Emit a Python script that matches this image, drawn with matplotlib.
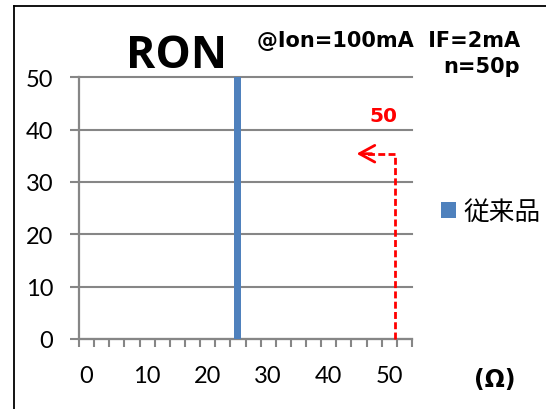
import matplotlib
matplotlib.use('Agg')
import matplotlib.pyplot as plt
from matplotlib.lines import Line2D
from matplotlib.font_manager import FontProperties
import numpy as np

# ---- data ----
categories = [0, 2.5, 5, 7.5, 10, 12.5, 15, 17.5, 20, 22.5, 25, 27.5,
              30, 32.5, 35, 37.5, 40, 42.5, 45, 47.5, 50, 52.5]
counts = [0, 0, 0, 0, 0, 0, 0, 0, 0, 0, 50, 0,
          0, 0, 0, 0, 0, 0, 0, 0, 0, 0]
series_name = '従来品'
xtick_labels = ['0', '10', '20', '30', '40', '50']
ytick_values = [0, 10, 20, 30, 40, 50]
title = 'RON'
cond_line1 = '@Ion=100mA  IF=2mA'
cond_line2 = 'n=50p'
unit_label = '(Ω)'
marker_value = '50'

plt.rcParams['font.family'] = ['Lato', 'DejaVu Sans']

W, H = 546, 410
fig = plt.figure(figsize=(W / 100, H / 100), dpi=100)
fig.patch.set_facecolor('white')

def fx(px):
    return px / W

def fy(py):
    return 1 - py / H

ax = fig.add_axes([fx(79), fy(340), fx(412) - fx(79), fy(78.3) - fy(340)])

idx = np.arange(len(categories))
bars = ax.bar(idx, counts, width=0.47, color='#4F81BD', zorder=3)

grey = '#868686'
ax.set_xlim(-0.5, len(categories) - 0.5)
ax.set_ylim(0, 50)
ax.set_yticks(ytick_values)
ax.set_yticklabels([str(v) for v in ytick_values])
ax.yaxis.grid(True, color=grey, lw=1.5, zorder=1)
for gl in ax.get_ygridlines():
    gl.set_clip_on(False)

# category boundary ticks (no labels) and labels every 4th category
ax.set_xticks(np.arange(len(categories) + 1) - 0.5)
ax.set_xticklabels([])
ax.set_xticks(idx[::4], minor=True)
ax.set_xticklabels(xtick_labels, minor=True)
ax.tick_params(axis='x', which='major', direction='out', length=5.5, width=1.5, color=grey)
ax.tick_params(axis='x', which='minor', length=0, pad=19, labelsize=17)
ax.tick_params(axis='y', which='major', direction='out', length=6.5, width=1.5, color=grey,
               pad=12, labelsize=17)

for s in ['top', 'right']:
    ax.spines[s].set_visible(False)
for s in ['left', 'bottom']:
    ax.spines[s].set_color(grey)
    ax.spines[s].set_linewidth(1.6)

# dashed red arrow annotation
vx = 20.4
vy = 35.4
tipx = 17.84
ax.plot([vx, vx, tipx + 0.4], [0, vy, vy], color='red', lw=2,
        dashes=(2.5, 1.2), clip_on=False, zorder=4)
ax.annotate('', xy=(tipx, vy), xytext=(tipx + 1.0, vy),
            arrowprops=dict(arrowstyle='->,head_length=1.1,head_width=0.6',
                            color='red', lw=2, shrinkA=0, shrinkB=0))
ax.text(19.6, (340 - 122) / 5.234, marker_value, color='red', ha='center', va='baseline',
        fontsize=14.5, fontweight='bold', family='DejaVu Sans')

# texts
fig.text(fx(176), fy(68), title, ha='center', va='baseline', fontsize=32,
         fontweight='bold', family='Open Sans')
fig.text(fx(520), fy(47), cond_line1, ha='right', va='baseline', fontsize=15,
         fontweight='bold', family='DejaVu Sans')
fig.text(fx(520), fy(73), cond_line2, ha='right', va='baseline', fontsize=15,
         fontweight='bold', family='DejaVu Sans')
fig.text(fx(495), fy(387), unit_label, ha='center', va='baseline', fontsize=17,
         fontweight='bold', family='DejaVu Sans')

# legend
ax.legend([bars], [series_name], loc='center left',
          bbox_to_anchor=(fx(441), fy(213)), bbox_transform=fig.transFigure,
          frameon=False, borderpad=0, borderaxespad=0,
          handlelength=0.58, handleheight=0.58, handletextpad=0.3,
          prop=FontProperties(family=['Noto Sans CJK JP', 'DejaVu Sans'], size=18.5))

# outer frame (partially visible)
fig.add_artist(Line2D([fx(14), fx(14)], [0, fy(7)], transform=fig.transFigure,
                      color='black', lw=1.3))
fig.add_artist(Line2D([fx(14), 1], [fy(7), fy(7)], transform=fig.transFigure,
                      color='black', lw=1.3))

fig.savefig('out.png', dpi=100)
